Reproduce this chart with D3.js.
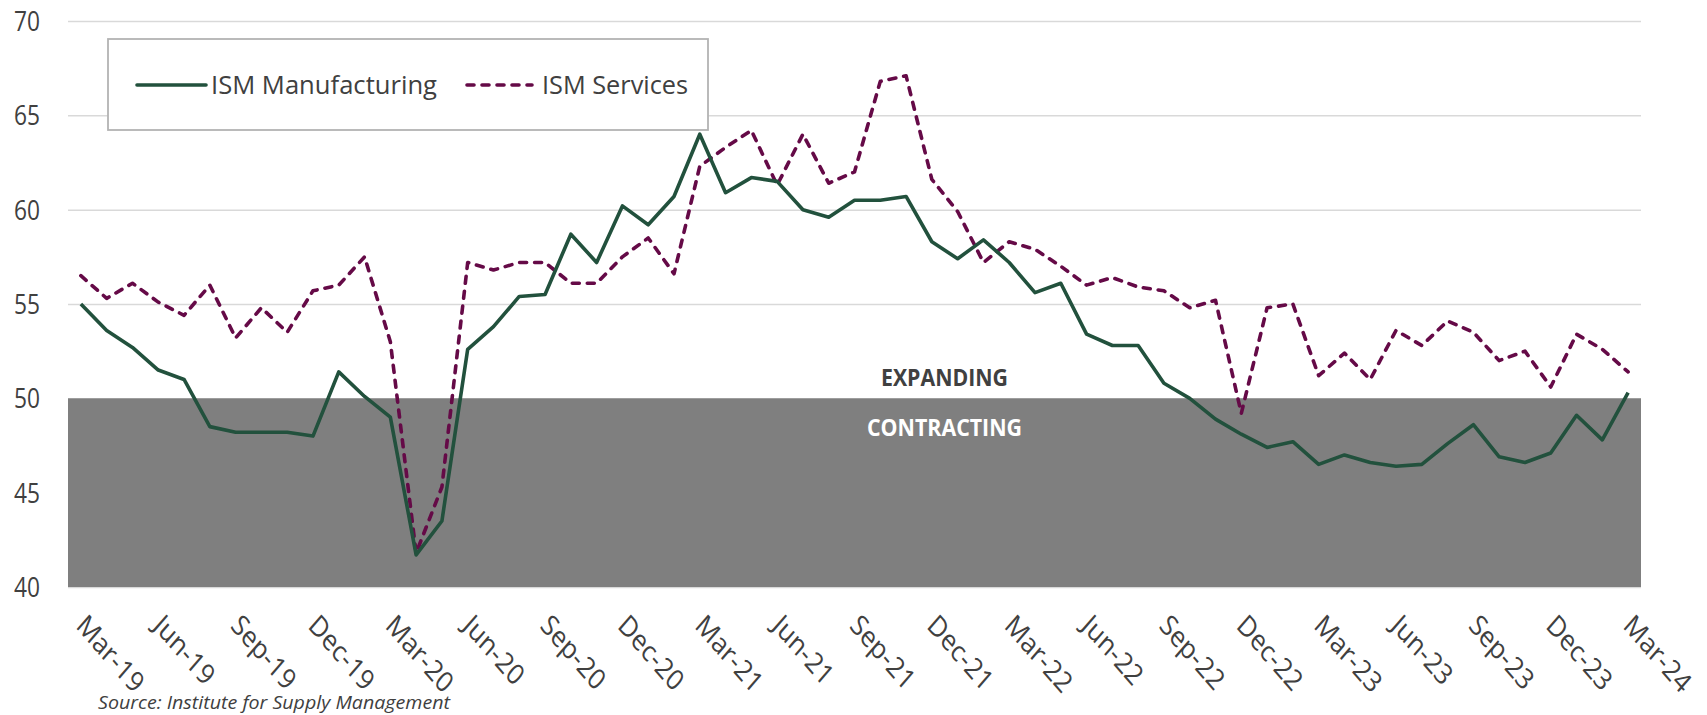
<!DOCTYPE html>
<html>
<head>
<meta charset="utf-8">
<script src="https://cdn.jsdelivr.net/npm/d3@7"></script>
<style>
  html, body { margin: 0; padding: 0; background: #ffffff; }
  svg { display: block; }
  text { font-family: "Open Sans", "Noto Sans", sans-serif; }
</style>
</head>
<body>
<svg id="chart" width="1707" height="715"></svg>
<script>
// ---------------- DATA ----------------
const startMonth = "2019-03";
const seriesNames = ["ISM Manufacturing", "ISM Services"];
const manufacturing = [
  55.0, 53.6, 52.7, 51.5, 51.0, 48.5, 48.2, 48.2, 48.2, 48.0,
  51.4, 50.1, 49.0, 41.7, 43.5, 52.6, 53.8, 55.4, 55.5, 58.7, 57.2, 60.2,
  59.2, 60.7, 64.0, 60.9, 61.7, 61.5, 60.0, 59.6, 60.5, 60.5, 60.7, 58.3,
  57.4, 58.4, 57.2, 55.6, 56.1, 53.4, 52.8, 52.8, 50.8, 50.0, 48.9, 48.1,
  47.4, 47.7, 46.5, 47.0, 46.6, 46.4, 46.5, 47.6, 48.6, 46.9, 46.6, 47.1,
  49.1, 47.8, 50.3
];
const services = [
  56.5, 55.3, 56.1, 55.1, 54.4, 56.0, 53.2, 54.8, 53.5, 55.7,
  56.0, 57.5, 53.0, 41.8, 45.3, 57.2, 56.8, 57.2, 57.2, 56.1, 56.1, 57.5,
  58.5, 56.6, 62.3, 63.3, 64.2, 61.3, 64.0, 61.4, 62.0, 66.8, 67.1, 61.6,
  59.9, 57.2, 58.3, 57.9, 57.0, 56.0, 56.4, 55.9, 55.7, 54.8, 55.2, 49.2,
  54.8, 55.0, 51.2, 52.4, 51.0, 53.6, 52.8, 54.1, 53.5, 52.0, 52.5, 50.6,
  53.4, 52.6, 51.4
];
const xTickLabels = [
  "Mar-19","Jun-19","Sep-19","Dec-19","Mar-20","Jun-20","Sep-20","Dec-20",
  "Mar-21","Jun-21","Sep-21","Dec-21","Mar-22","Jun-22","Sep-22","Dec-22",
  "Mar-23","Jun-23","Sep-23","Dec-23","Mar-24"
];
const yTicks = [40, 45, 50, 55, 60, 65, 70];
const threshold = 50;
const zoneLabels = ["EXPANDING", "CONTRACTING"];
const sourceNote = "Source: Institute for Supply Management";

// categories (month labels)
const fmt = d3.timeFormat("%b-%y");
const t0 = d3.timeParse("%Y-%m")(startMonth);
const categories = manufacturing.map((_, i) => fmt(d3.timeMonth.offset(t0, i)));

// ---------------- LAYOUT ----------------
const svg = d3.select("#chart");
const pL = 68, pR = 1641, pT = 21, pB = 587;
const colMfg = "#22513d", colSvc = "#650a47";
const textCol = "#404040";

const x = d3.scaleBand().domain(categories).range([pL, pR]).padding(0);
const y = d3.scaleLinear().domain([40, 70]).range([pB, pT]);
const cx = d => x(d) + x.bandwidth() / 2;

// gridlines
const grid = svg.append("g").attr("transform", `translate(${pL},0)`)
  .call(d3.axisLeft(y).tickValues(yTicks).tickSize(-(pR - pL)).tickFormat(""));
grid.select(".domain").remove();
grid.selectAll("line").attr("stroke", "#d9d9d9").attr("stroke-width", 1.5);

// contraction zone
svg.append("rect")
  .attr("x", pL).attr("y", y(threshold))
  .attr("width", pR - pL).attr("height", y(40) - y(threshold))
  .attr("fill", "#7f7f7f");

// y axis labels
const yAxis = svg.append("g").attr("transform", `translate(${pL},0)`)
  .call(d3.axisLeft(y).tickValues(yTicks).tickSize(0).tickPadding(28));
yAxis.select(".domain").remove();
yAxis.selectAll("text")
  .attr("fill", textCol).attr("font-size", 27).attr("dy", 9.6)
  .attr("textLength", 26).attr("lengthAdjust", "spacingAndGlyphs");

// x axis labels
const xAxis = svg.append("g").attr("transform", `translate(0,${pB})`)
  .call(d3.axisBottom(x).tickValues(xTickLabels).tickSize(0));
xAxis.select(".domain").remove();
xAxis.selectAll("text")
  .attr("fill", textCol).attr("font-size", 25)
  .attr("x", 0).attr("y", 0).attr("dy", 0)
  .attr("text-anchor", "start")
  .attr("transform", "translate(-6,40) scale(1,1.15) rotate(45)");

// zone labels
svg.append("text").text(zoneLabels[0])
  .attr("x", 944.5).attr("y", 386).attr("text-anchor", "middle")
  .attr("font-size", 24).attr("font-weight", "bold").attr("fill", textCol)
  .attr("textLength", 127).attr("lengthAdjust", "spacingAndGlyphs");
svg.append("text").text(zoneLabels[1])
  .attr("x", 944.5).attr("y", 436).attr("text-anchor", "middle")
  .attr("font-size", 24).attr("font-weight", "bold").attr("fill", "#ffffff")
  .attr("textLength", 155).attr("lengthAdjust", "spacingAndGlyphs");

// lines
const line = d3.line().x((d, i) => cx(categories[i])).y(d => y(d));
svg.append("path").datum(services)
  .attr("d", line).attr("fill", "none")
  .attr("stroke", colSvc).attr("stroke-width", 3.6)
  .attr("stroke-dasharray", "7,8").attr("stroke-linecap", "round")
  .attr("stroke-linejoin", "round");
svg.append("path").datum(manufacturing)
  .attr("d", line).attr("fill", "none")
  .attr("stroke", colMfg).attr("stroke-width", 3.6)
  .attr("stroke-linejoin", "round");

// legend
const lg = svg.append("g");
lg.append("rect").attr("x", 108).attr("y", 39).attr("width", 600).attr("height", 91)
  .attr("fill", "#ffffff").attr("stroke", "#b3b3b3").attr("stroke-width", 1.8);
lg.append("line").attr("x1", 137).attr("x2", 206).attr("y1", 85).attr("y2", 85)
  .attr("stroke", colMfg).attr("stroke-width", 3.6).attr("stroke-linecap", "round");
lg.append("text").text(seriesNames[0]).attr("x", 211).attr("y", 93.5)
  .attr("font-size", 26).attr("fill", textCol)
  .attr("textLength", 226).attr("lengthAdjust", "spacingAndGlyphs");
lg.append("line").attr("x1", 467).attr("x2", 532).attr("y1", 85).attr("y2", 85)
  .attr("stroke", colSvc).attr("stroke-width", 3.6).attr("stroke-linecap", "round")
  .attr("stroke-dasharray", "7,8");
lg.append("text").text(seriesNames[1]).attr("x", 542).attr("y", 93.5)
  .attr("font-size", 26).attr("fill", textCol)
  .attr("textLength", 146).attr("lengthAdjust", "spacingAndGlyphs");

// source
svg.append("text").text(sourceNote).attr("x", 98).attr("y", 709)
  .attr("font-size", 19).attr("font-style", "italic").attr("fill", textCol)
  .attr("textLength", 352).attr("lengthAdjust", "spacingAndGlyphs");
</script>
</body>
</html>
